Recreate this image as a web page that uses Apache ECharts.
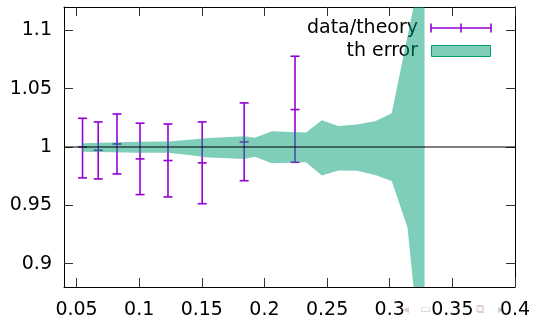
<!DOCTYPE html>
<html>
<head>
<meta charset="utf-8">
<script src="https://cdn.jsdelivr.net/npm/echarts@6/dist/echarts.min.js"></script>
<style>
  html, body { margin: 0; padding: 0; background: #fff; }
  #chart { width: 535px; height: 321px; }
</style>
</head>
<body>
<div id="chart"></div>
<script>
// data/theory points with error bars
const xData = [0.0548, 0.0673, 0.0823, 0.1007, 0.123, 0.1503, 0.1838, 0.2244];
const ratio = [1.0, 0.9972, 1.0026, 0.9898, 0.9884, 0.9864, 1.0043, 1.0321];
const errLow = [0.9735, 0.9726, 0.9769, 0.9592, 0.9572, 0.9514, 0.9711, 0.9869];
const errHigh = [1.0246, 1.0215, 1.0283, 1.0204, 1.0197, 1.0215, 1.0378, 1.0778];

// theory error band
const bandX = [0.0542, 0.100, 0.123, 0.145, 0.152, 0.184, 0.1924, 0.2058, 0.2332, 0.2458, 0.259, 0.2738, 0.2884, 0.3016, 0.3142, 0.3278];
const bandLow = [0.996, 0.995, 0.995, 0.9926, 0.9912, 0.9898, 0.9917, 0.9861, 0.987, 0.9756, 0.9798, 0.9796, 0.9761, 0.9708, 0.931, 0.786];
const bandHigh = [1.0033, 1.0045, 1.0048, 1.0066, 1.0074, 1.0092, 1.0079, 1.0136, 1.0125, 1.023, 1.0181, 1.0193, 1.0221, 1.029, 1.095, 1.166];

const xTicks = [0.05, 0.1, 0.15, 0.2, 0.25, 0.3, 0.35, 0.4];
const yTicks = [0.9, 0.95, 1, 1.05, 1.1];
const refLine = 1;

const FONT = 'DejaVu Sans';
const PURPLE = '#9400D3';
const GREEN = '#009E73';

const chart = echarts.init(document.getElementById('chart'));

const axisCommon = {
  type: 'value',
  axisLine: { show: true, onZero: false, lineStyle: { color: '#000', width: 1 } },
  axisTick: { show: true, inside: true, length: 9, lineStyle: { color: '#333', width: 1 } },
  splitLine: { show: false }
};

chart.setOption({
  animation: false,
  grid: { left: 64, right: 20, top: 7, bottom: 34 },
  xAxis: [
    Object.assign({}, axisCommon, {
      position: 'bottom', min: 0.04, max: 0.4,
      axisTick: Object.assign({}, axisCommon.axisTick, { customValues: xTicks }),
      axisLabel: { customValues: xTicks, color: '#000', fontFamily: FONT, fontSize: 19, margin: 14,
        formatter: v => String(+v.toFixed(2)) }
    }),
    Object.assign({}, axisCommon, {
      position: 'top', min: 0.04, max: 0.4,
      axisTick: Object.assign({}, axisCommon.axisTick, { customValues: xTicks }),
      axisLabel: { show: false }
    })
  ],
  yAxis: [
    Object.assign({}, axisCommon, {
      position: 'left', min: 0.88, max: 1.12,
      axisTick: Object.assign({}, axisCommon.axisTick, { customValues: yTicks }),
      axisLabel: { customValues: yTicks, color: '#000', fontFamily: FONT, fontSize: 19, margin: 12,
        formatter: v => String(+v.toFixed(2)) }
    }),
    Object.assign({}, axisCommon, {
      position: 'right', min: 0.88, max: 1.12,
      axisTick: Object.assign({}, axisCommon.axisTick, { customValues: yTicks }),
      axisLabel: { show: false }
    })
  ],
  series: [
    {
      name: 'data/theory',
      type: 'custom',
      z: 2,
      clip: true,
      data: xData.map((x, i) => [x, ratio[i], errLow[i], errHigh[i]]),
      renderItem(params, api) {
        const x = api.value(0);
        const c = api.coord([x, api.value(1)]);
        const lo = api.coord([x, api.value(2)]);
        const hi = api.coord([x, api.value(3)]);
        const w = 4.5;
        const style = { stroke: PURPLE, lineWidth: 1.6, fill: null };
        return {
          type: 'group',
          children: [
            { type: 'line', shape: { x1: c[0], y1: lo[1], x2: c[0], y2: hi[1] }, style },
            { type: 'line', shape: { x1: c[0] - w, y1: lo[1], x2: c[0] + w, y2: lo[1] }, style },
            { type: 'line', shape: { x1: c[0] - w, y1: hi[1], x2: c[0] + w, y2: hi[1] }, style },
            { type: 'line', shape: { x1: c[0] - w, y1: c[1], x2: c[0] + w, y2: c[1] }, style }
          ]
        };
      }
    },
    {
      name: 'th error',
      type: 'custom',
      z: 3,
      clip: true,
      data: bandX.map((x, i) => [x, bandLow[i], bandHigh[i]]),
      renderItem(params, api) {
        if (params.dataIndexInside !== 0) return null;
        const n = params.dataInsideLength;
        const upper = [], lower = [];
        for (let i = 0; i < n; i++) {
          const x = api.value(0, i);
          upper.push(api.coord([x, api.value(2, i)]));
          lower.push(api.coord([x, api.value(1, i)]));
        }
        return {
          type: 'polygon',
          shape: { points: upper.concat(lower.reverse()) },
          style: { fill: GREEN, opacity: 0.5 }
        };
      }
    },
    {
      type: 'line',
      z: 4,
      symbol: 'none',
      silent: true,
      data: [[0.04, refLine], [0.4, refLine]],
      lineStyle: { color: '#000', width: 1 }
    }
  ],
  graphic: [
    { type: 'text', z: 1, style: { x: 418, y: 28.5, text: 'data/theory', align: 'right', verticalAlign: 'middle', font: '19px "DejaVu Sans"', fill: '#000' } },
    { type: 'text', z: 1, style: { x: 418, y: 51.5, text: 'th error', align: 'right', verticalAlign: 'middle', font: '19px "DejaVu Sans"', fill: '#000' } },
    { type: 'line', shape: { x1: 431, y1: 28, x2: 491, y2: 28 }, style: { stroke: PURPLE, lineWidth: 1.6 } },
    { type: 'line', shape: { x1: 431, y1: 23.5, x2: 431, y2: 32.5 }, style: { stroke: PURPLE, lineWidth: 1.6 } },
    { type: 'line', shape: { x1: 491, y1: 23.5, x2: 491, y2: 32.5 }, style: { stroke: PURPLE, lineWidth: 1.6 } },
    { type: 'line', shape: { x1: 461, y1: 23.5, x2: 461, y2: 32.5 }, style: { stroke: PURPLE, lineWidth: 1.6 } },
    { type: 'rect', shape: { x: 431.5, y: 45.5, width: 59, height: 11 }, style: { fill: 'rgba(0,158,115,0.5)', stroke: GREEN, lineWidth: 1 } },
    { type: 'text', left: 403, top: 304, style: { text: '◂', font: '12px "DejaVu Sans"', fill: '#dccbd0' } },
    { type: 'text', left: 420, top: 304, style: { text: '▭', font: '12px "DejaVu Sans"', fill: '#dccbd0' } },
    { type: 'text', left: 476, top: 304, style: { text: '⧉', font: '12px "DejaVu Sans"', fill: '#dccbd0' } },
    { type: 'text', left: 498, top: 304, style: { text: '▸', font: '12px "DejaVu Sans"', fill: '#dccbd0' } }
  ]
});
</script>
</body>
</html>
